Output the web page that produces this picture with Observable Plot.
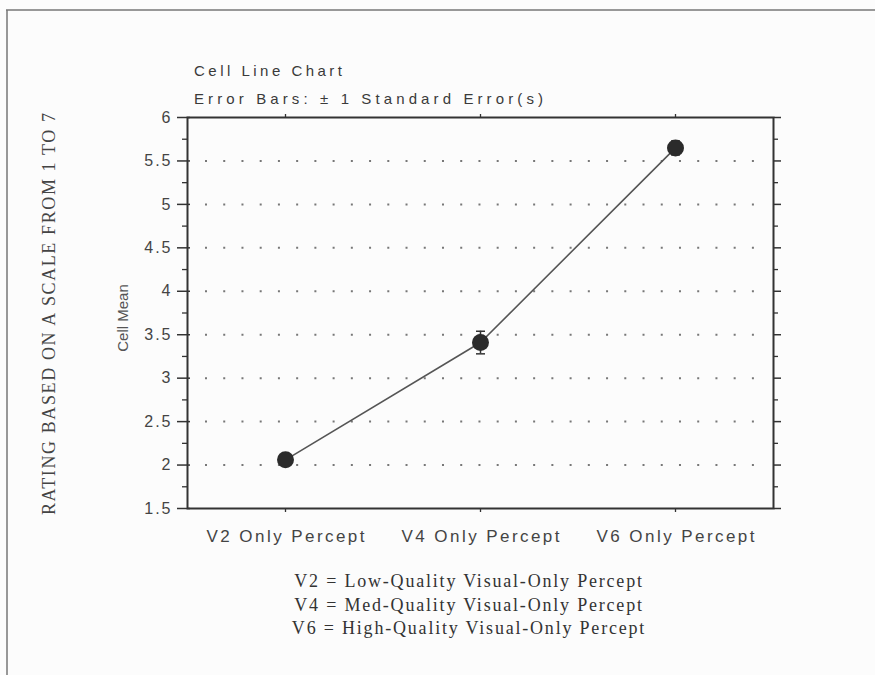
<!DOCTYPE html>
<html><head><meta charset="utf-8">
<script src="https://cdn.jsdelivr.net/npm/d3@7"></script>
<script src="https://cdn.jsdelivr.net/npm/@observablehq/plot@0.6"></script>
<style>
html,body{margin:0;padding:0;background:#fcfcfc;}
#chart{position:relative;width:875px;height:675px;overflow:hidden;}
g[aria-label="y-axis tick label"] text{letter-spacing:2px;}
</style></head><body><div id="chart"></div>
<script>
// ---- data ----
const categories = ["V2 Only Percept", "V4 Only Percept", "V6 Only Percept"];
const means = [2.06, 3.41, 5.65];
const stdErrors = [0.06, 0.13, 0.08];
const yTicks = [1.5, 2, 2.5, 3, 3.5, 4, 4.5, 5, 5.5, 6];
const yMinorTicks = [1.75, 2.25, 2.75, 3.25, 3.75, 4.25, 4.75, 5.25, 5.75];
const gridValues = [2, 2.5, 3, 3.5, 4, 4.5, 5, 5.5];
const titleText = "Cell Line Chart";
const subtitleText = "Error Bars: \u00b1 1 Standard Error(s)";
const yLabel = "Cell Mean";
const outerLabel = "RATING BASED ON A SCALE FROM 1 TO 7";
const legendLines = [
  "V2 = Low-Quality Visual-Only Percept",
  "V4 = Med-Quality Visual-Only Percept",
  "V6 = High-Quality Visual-Only Percept"
];

const data = categories.map((c, i) => ({category: c, mean: means[i], se: stdErrors[i]}));

const capSymbol = {draw(ctx, size) { const r = Math.sqrt(size / Math.PI); ctx.moveTo(-r, 0); ctx.lineTo(r, 0); }};
const ink = "#333";
const blank = () => "";

const plot = Plot.plot({
  width: 875, height: 675,
  marginLeft: 187, marginRight: 102, marginTop: 117, marginBottom: 167,
  style: {background: "transparent", fontFamily: "'Liberation Sans', Arial, sans-serif", color: "#444", overflow: "visible"},
  x: {type: "point", domain: categories, padding: 0.5},
  y: {domain: [1.5, 6]},
  marks: [
    Plot.ruleY(gridValues, {stroke: "#777", strokeWidth: 2, strokeDasharray: "2 16.23", insetLeft: 18, insetRight: 18}),
    Plot.line(data, {x: "category", y: "mean", stroke: "#555", strokeWidth: 1.6}),
    Plot.ruleX(data, {x: "category", y1: d => d.mean - d.se, y2: d => d.mean + d.se, stroke: ink, strokeWidth: 1.5}),
    Plot.dot(data, {x: "category", y: d => d.mean + d.se, symbol: capSymbol, r: 4.5, stroke: ink, strokeWidth: 1.5, fill: "none"}),
    Plot.dot(data, {x: "category", y: d => d.mean - d.se, symbol: capSymbol, r: 4.5, stroke: ink, strokeWidth: 1.5, fill: "none"}),
    Plot.dot(data, {x: "category", y: "mean", r: 8.5, fill: "#2b2b2b", stroke: "none"}),
    Plot.frame({stroke: ink, strokeWidth: 2}),
    Plot.axisY({ticks: yTicks, anchor: "left", tickSize: 13, dx: 3, tickPadding: 5, fontSize: 16, tickFormat: d => String(d), label: null, stroke: ink, strokeWidth: 1.5}),
    Plot.axisY({ticks: yMinorTicks, anchor: "left", tickSize: 5, tickFormat: blank, label: null, stroke: ink, strokeWidth: 1.3}),
    Plot.axisY({ticks: yTicks, anchor: "right", tickSize: 7, tickFormat: blank, label: null, stroke: ink, strokeWidth: 1.5}),
    Plot.axisY({ticks: yMinorTicks, anchor: "right", tickSize: 4, tickFormat: blank, label: null, stroke: ink, strokeWidth: 1.3}),
    Plot.axisX({anchor: "top", tickSize: 4, tickFormat: blank, label: null, stroke: ink, strokeWidth: 1.3}),
    Plot.axisX({anchor: "bottom", tickSize: 4, tickPadding: 17, fontSize: 17, label: null, stroke: ink, strokeWidth: 1.3})
  ]
});
plot.style.position = "absolute";
plot.style.left = "0px";
plot.style.top = "0px";
document.getElementById("chart").appendChild(plot);

const svg = d3.select(plot);
// bottom tick labels: stretch to match the scanned spacing
svg.selectAll('g[aria-label="x-axis tick label"] text')
  .attr("textLength", 158).attr("lengthAdjust", "spacing");

// page border
svg.append("path").attr("d", "M6,10H875M7,10V675").attr("fill", "none").attr("stroke", "#777").attr("stroke-width", 1.5);

const sans = "'Liberation Sans', Arial, sans-serif";
const serif = "'Liberation Serif', 'Times New Roman', serif";

svg.append("text").text(titleText)
  .attr("x", 194).attr("y", 76).attr("text-anchor", "start").attr("font-family", sans).attr("font-size", 15).attr("fill", "#3a3a3a")
  .attr("textLength", 148).attr("lengthAdjust", "spacing");
svg.append("text").text(subtitleText)
  .attr("x", 194).attr("y", 104).attr("text-anchor", "start").attr("font-family", sans).attr("font-size", 15).attr("fill", "#3a3a3a")
  .attr("textLength", 349).attr("lengthAdjust", "spacing");

svg.append("text").text(yLabel)
  .attr("transform", "translate(128,318) rotate(-90)").attr("text-anchor", "middle")
  .attr("font-family", sans).attr("font-size", 15).attr("fill", "#555");

svg.append("text").text(outerLabel)
  .attr("transform", "translate(55,314) rotate(-90)").attr("text-anchor", "middle")
  .attr("font-family", serif).attr("font-size", 18).attr("fill", "#444")
  .attr("textLength", 402).attr("lengthAdjust", "spacing");

svg.append("g").selectAll("text").data(legendLines).join("text")
  .text(d => d)
  .attr("x", 469).attr("y", (d, i) => 587 + i * 23.5)
  .attr("text-anchor", "middle").attr("font-family", serif).attr("font-size", 18)
  .style("letter-spacing", "1.8px").attr("fill", "#333");
</script>
</body></html>
